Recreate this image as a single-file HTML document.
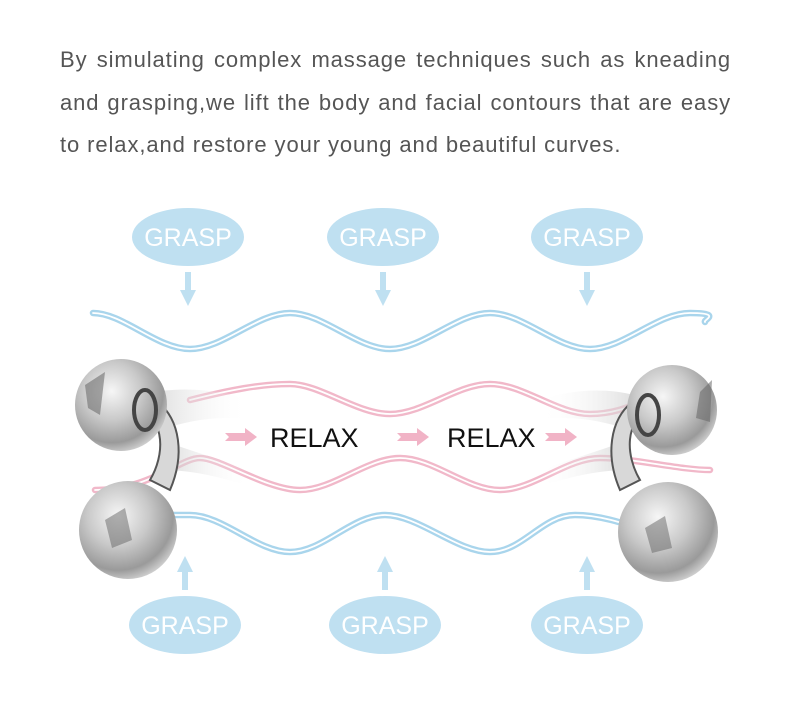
<!DOCTYPE html>
<html><head><style>
body{margin:0;width:790px;height:709px;background:#fff;overflow:hidden;position:relative;font-family:"Liberation Sans",Arial,sans-serif}
.t{position:absolute;left:60px;width:671px;font-size:22px;color:#555;text-align:justify;text-align-last:justify;white-space:nowrap;letter-spacing:0.9px}
.t.l{text-align-last:left}
</style></head><body>
<div class="t" style="top:47px">By simulating complex massage techniques such as kneading</div>
<div class="t" style="top:90px">and grasping,we lift the body and facial contours that are easy</div>
<div class="t l" style="top:132px">to relax,and restore your young and beautiful curves.</div>
<svg width="790" height="709" style="position:absolute;left:0;top:0">
<defs>
<radialGradient id="ball" cx="0.4" cy="0.35" r="0.7">
<stop offset="0" stop-color="#f6f6f6"/><stop offset="0.45" stop-color="#c9c9c9"/><stop offset="0.8" stop-color="#9a9a9a"/><stop offset="1" stop-color="#d8d8d8"/>
</radialGradient>
<linearGradient id="fadeL" x1="0" x2="1"><stop offset="0" stop-color="#c8c8c8"/><stop offset="1" stop-color="#fff" stop-opacity="0"/></linearGradient>
<linearGradient id="fadeR" x1="1" x2="0"><stop offset="0" stop-color="#c8c8c8"/><stop offset="1" stop-color="#fff" stop-opacity="0"/></linearGradient>
</defs>
<g fill="none" stroke-linecap="round">
<g stroke="#a9d5ec" stroke-width="6.5">
<path id="w1" d="M93,313 C123,313 157,349 190,349 S257,313 290,313 S357,349 390,349 S457,313 490,313 S557,349 590,349 S657,313 690,313 S703,320 705,322"/>
<path id="w4" d="M170,515 C180,515 185,515 190,515 C223,515 257,552 290,552 S352,515 385,515 S457,552 490,552 S542,515 575,515 S640,530 660,535"/>
</g>
<g stroke="#fff" stroke-width="1.8">
<use href="#w1"/><use href="#w4"/>
</g>
<g stroke="#f1b8c9" stroke-width="6.5">
<path id="w2" d="M190,400 C230,390 260,384 290,384 S357,414 390,414 S457,384 490,384 S557,414 590,414 S640,400 660,395"/>
<path id="w3" d="M95,490 C150,490 180,458 200,458 S267,490 300,490 S367,458 400,458 S467,490 500,490 S567,458 600,458 S680,470 710,470"/>
</g>
<g stroke="#fff" stroke-width="1.8">
<use href="#w2"/><use href="#w3"/>
</g>
</g>
<g fill="#bfe0f1">
<ellipse cx="188" cy="237" rx="56" ry="29"/><ellipse cx="383" cy="237" rx="56" ry="29"/><ellipse cx="587" cy="237" rx="56" ry="29"/>
<ellipse cx="185" cy="625" rx="56" ry="29"/><ellipse cx="385" cy="625" rx="56" ry="29"/><ellipse cx="587" cy="625" rx="56" ry="29"/>
<g transform="translate(188,272)"><rect x="-3" y="0" width="6" height="22"/><polygon points="-8,18 8,18 0,34"/></g>
<g transform="translate(383,272)"><rect x="-3" y="0" width="6" height="22"/><polygon points="-8,18 8,18 0,34"/></g>
<g transform="translate(587,272)"><rect x="-3" y="0" width="6" height="22"/><polygon points="-8,18 8,18 0,34"/></g>
<g transform="translate(185,590) scale(1,-1)"><rect x="-3" y="0" width="6" height="22"/><polygon points="-8,18 8,18 0,34"/></g>
<g transform="translate(385,590) scale(1,-1)"><rect x="-3" y="0" width="6" height="22"/><polygon points="-8,18 8,18 0,34"/></g>
<g transform="translate(587,590) scale(1,-1)"><rect x="-3" y="0" width="6" height="22"/><polygon points="-8,18 8,18 0,34"/></g>
</g>
<g font-family="Liberation Sans,sans-serif" font-size="25" fill="#fff" text-anchor="middle">
<text x="188" y="246">GRASP</text><text x="383" y="246">GRASP</text><text x="587" y="246">GRASP</text>
<text x="185" y="634">GRASP</text><text x="385" y="634">GRASP</text><text x="587" y="634">GRASP</text>
</g>
<g fill="#f1b3c6">
<g transform="translate(225,437)"><polygon points="0,-4 20,-4 20,-9 32,0 20,9 20,4 0,4 4,0"/></g>
<g transform="translate(397,437)"><polygon points="0,-4 20,-4 20,-9 32,0 20,9 20,4 0,4 4,0"/></g>
<g transform="translate(545,437)"><polygon points="0,-4 20,-4 20,-9 32,0 20,9 20,4 0,4 4,0"/></g>
</g>
<g font-family="Liberation Sans,sans-serif" font-size="27" fill="#111">
<text x="270" y="447">RELAX</text><text x="447" y="447">RELAX</text>
</g>
<path d="M140,395 C180,385 220,390 250,400 L250,420 C220,415 190,420 160,430 Z" fill="url(#fadeL)" opacity="0.8"/>
<path d="M160,440 C190,450 220,460 250,470 L245,485 C215,475 185,470 165,470 Z" fill="url(#fadeL)" opacity="0.7"/>
<path d="M140,410 C165,420 165,455 150,480 L170,490 C185,455 180,420 158,402 Z" fill="#d8d8d8" stroke="#555" stroke-width="2"/>
<circle cx="121" cy="405" r="46" fill="url(#ball)"/>
<circle cx="128" cy="530" r="49" fill="url(#ball)"/>
<polygon points="85,385 105,372 100,415 88,408" fill="#666" opacity="0.55"/>
<polygon points="105,520 125,508 132,540 112,548" fill="#666" opacity="0.5"/>
<ellipse cx="145" cy="410" rx="11" ry="20" fill="none" stroke="#444" stroke-width="4"/>
<path d="M650,400 C610,385 570,390 540,400 L540,420 C570,415 600,420 630,430 Z" fill="url(#fadeR)" opacity="0.8"/>
<path d="M630,440 C600,450 570,460 540,470 L545,485 C575,475 605,470 625,470 Z" fill="url(#fadeR)" opacity="0.7"/>
<path d="M650,410 C625,420 625,455 640,480 L620,490 C605,455 610,420 632,402 Z" fill="#d8d8d8" stroke="#555" stroke-width="2"/>
<circle cx="672" cy="410" r="45" fill="url(#ball)"/>
<circle cx="668" cy="532" r="50" fill="url(#ball)"/>
<polygon points="700,392 712,380 710,422 696,418" fill="#666" opacity="0.55"/>
<polygon points="645,528 665,516 672,548 652,553" fill="#666" opacity="0.5"/>
<ellipse cx="648" cy="415" rx="11" ry="20" fill="none" stroke="#444" stroke-width="4"/>
</svg>
</body></html>
